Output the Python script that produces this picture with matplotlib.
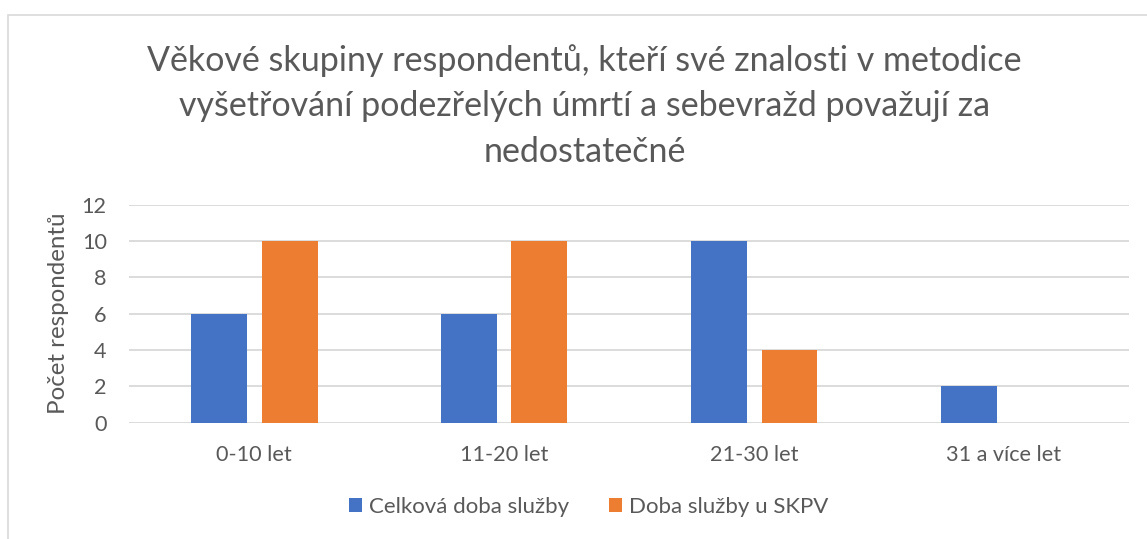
import matplotlib
matplotlib.use("Agg")
import matplotlib.pyplot as plt
import numpy as np
from matplotlib.patches import Rectangle

categories = ["0-10 let", "11-20 let", "21-30 let", "31 a více let"]
celkova = [6, 6, 10, 2]
skpv = [10, 10, 4, 0]
series_names = ["Celková doba služby", "Doba služby u SKPV"]
title = ("Věkové skupiny respondentů, kteří své znalosti v metodice\n"
         "vyšetřování podezřelých úmrtí a sebevražd považují za\n"
         "nedostatečné")
ylabel = "Počet respondentů"

plt.rcParams['font.family'] = ['Lato', 'DejaVu Sans']
txt = "#595959"

fig = plt.figure(figsize=(11.47, 5.39), dpi=100)
fig.patches.append(Rectangle((8/1147, -0.01), 1.5, 1 - 15/539 + 0.01, transform=fig.transFigure,
                             fill=False, edgecolor="#d9d9d9", linewidth=1.2))
ax = fig.add_axes([129/1147, 1 - 422.7/539, 1000/1147, (422.7 - 204.7)/539])

x = np.arange(len(categories))
w = 0.224
off = (w + 0.06) / 2
ax.bar(x - off, celkova, w, color="#4472C4", label=series_names[0], zorder=3)
ax.bar(x + off, skpv, w, color="#ED7D31", label=series_names[1], zorder=3)

ax.set_xlim(-0.5, 3.5)
ax.set_ylim(0, 12)
ax.set_yticks(range(0, 13, 2))
ax.set_xticks(x)
ax.set_xticklabels(categories)
ax.grid(axis="y", color="#d9d9d9", linewidth=1.3, zorder=0)
for s in ax.spines.values():
    s.set_visible(False)
ax.tick_params(length=0, colors=txt, labelsize=15.6)
ax.tick_params(axis="x", pad=16)
ax.tick_params(axis="y", pad=16)
ax.set_ylabel(ylabel, color=txt, fontsize=17.4, labelpad=9)

fig.text(0.5095, 1 - 106/539, title, ha="center", va="center", fontsize=24.5,
         color=txt, linespacing=1.53)

leg = fig.legend(loc="center", bbox_to_anchor=(588.5/1147, 1 - 507/539),
          ncol=2, frameon=False, fontsize=16,
          labelcolor=txt, handlelength=0.6, handleheight=0.6, columnspacing=1.8, handletextpad=0.3)
fig.savefig("out.png", dpi=100)
